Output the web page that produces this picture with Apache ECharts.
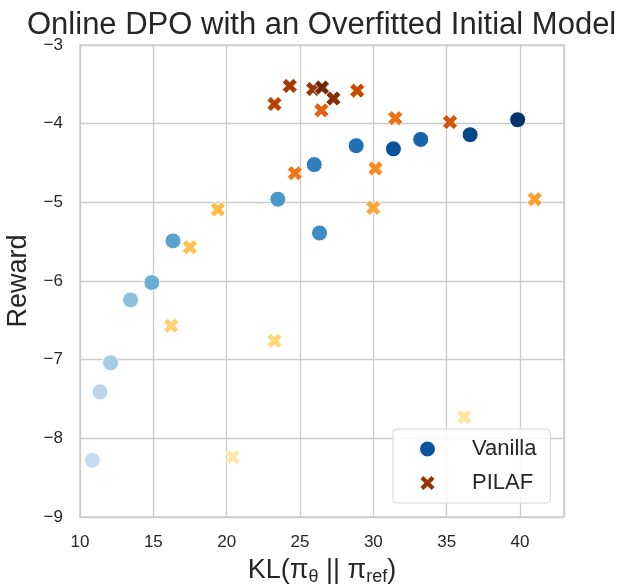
<!DOCTYPE html>
<html><head><meta charset="utf-8">
<script src="https://cdn.jsdelivr.net/npm/echarts@6/dist/echarts.min.js"></script>
<style>html,body{margin:0;padding:0;background:#fff}#c{width:619px;height:587px}</style>
</head><body><div id="c"></div>
<script>
// ---- data ----
const xTicks = [10, 15, 20, 25, 30, 35, 40];
const yTicks = [-9, -8, -7, -6, -5, -4, -3];
const vanillaKL     = [10.84, 11.36, 12.09, 13.45, 14.90, 16.34, 23.49, 26.33, 25.97, 28.83, 33.23, 31.37, 36.60, 39.84];
const vanillaReward = [-8.28, -7.41, -7.04, -6.24, -6.02, -5.49, -4.96, -5.39, -4.52, -4.28, -4.20, -4.32, -4.14, -3.95];
const pilafKL     = [36.20, 20.42, 23.26, 16.22, 17.49, 19.40, 30.00, 41.00, 30.14, 24.65, 31.50, 26.46, 35.23, 28.90, 23.26, 24.30, 25.90, 27.28, 26.50];
const pilafReward = [-7.73, -8.24, -6.76, -6.57, -5.57, -5.09, -5.07, -4.96, -4.57, -4.63, -3.93, -3.83, -3.98, -3.58, -3.75, -3.52, -3.56, -3.68, -3.54];

// ---- styles ----
const vanillaColors = ['#c6dbef','#b9d6ea','#a6cde3','#8cc0dd','#6aaed6','#5ba3d0','#4a98c9','#3c8cc3','#2e7ebc','#2171b5','#1764ab','#08519c','#08468a','#08306b'];
const pilafColors = ['#fee6a0','#fee8a5','#fed97a','#fed070','#fec24f','#febb48','#fea535','#fe9d2f','#fb8c20','#f07818','#ec7014','#e36210','#d4560a','#c84b04','#b84203','#a33a04','#993404','#86300a','#6e2a06'];
const xPath = 'path://M2.6,0 L5,2.4 L7.4,0 L10,2.6 L7.6,5 L10,7.4 L7.4,10 L5,7.6 L2.6,10 L0,7.4 L2.4,5 L0,2.6 Z';
const txt = '#262626';
const grid = '#cccccc';
const font = 'Liberation Sans, Arial, sans-serif';

const vData = vanillaKL.map((k, i) => ({value: [k, vanillaReward[i]], itemStyle: {color: vanillaColors[i]}}));
const pData = pilafKL.map((k, i) => ({value: [k, pilafReward[i]], itemStyle: {color: pilafColors[i]}}));

const chart = echarts.init(document.getElementById('c'), null, {renderer: 'canvas'});
chart.setOption({
  animation: false,
  backgroundColor: '#fff',
  textStyle: {fontFamily: font},
  title: {
    text: 'Online DPO with an Overfitted Initial Model',
    left: 22, top: 5,
    textStyle: {fontSize: 31, fontWeight: 'normal', color: txt, fontFamily: font}
  },
  grid: {left: 80, right: 55, top: 45, bottom: 70, outerBoundsMode: 'none', containLabel: false,
    show: true, borderColor: grid, borderWidth: 1.5, backgroundColor: '#fff'},
  xAxis: {
    type: 'value', min: 10, max: 43, interval: 5,
    axisLine: {show: false}, axisTick: {show: false},
    splitLine: {show: true, lineStyle: {color: grid, width: 1.3}},
    axisLabel: {fontSize: 17, color: txt, margin: 17, showMaxLabel: false,
      formatter: v => xTicks.includes(v) ? String(v) : ''},
    name: 'KL(π{sub|θ} || π{sub|ref})',
    nameLocation: 'middle', nameGap: 33,
    nameTextStyle: {fontSize: 27, color: txt, lineHeight: 30,
      rich: {sub: {fontSize: 18, color: txt, verticalAlign: 'bottom', lineHeight: 18, padding: [10, 0, 0, 0]}}}
  },
  yAxis: {
    type: 'value', min: -9, max: -3, interval: 1,
    axisLine: {show: false}, axisTick: {show: false},
    splitLine: {show: true, lineStyle: {color: grid, width: 1.3}},
    axisLabel: {fontSize: 17, color: txt, margin: 17,
      formatter: v => yTicks.includes(v) ? String(v).replace('-', '−') : ''},
    name: 'Reward', nameLocation: 'middle', nameGap: 48,
    nameTextStyle: {fontSize: 27, color: txt}
  },
  legend: {
    orient: 'vertical', left: 393, top: 429,
    padding: [8, 14, 8, 25],
    itemWidth: 17, itemHeight: 17, itemGap: 10,
    backgroundColor: 'rgba(255,255,255,0.85)', borderColor: '#d6d6d6', borderWidth: 1, borderRadius: 4,
    textStyle: {fontSize: 22, color: txt, lineHeight: 24, padding: [0, 0, 0, 31]},
    data: [{name: 'Vanilla', icon: 'circle'}, {name: 'PILAF', icon: xPath}]
  },
  series: [
    {name: 'Vanilla', type: 'scatter', symbol: 'circle', symbolSize: 16,
      itemStyle: {color: '#0b559f', borderColor: '#fff', borderWidth: 1, opacity: 1},
      data: vData, z: 2},
    {name: 'PILAF', type: 'scatter', symbol: xPath, symbolSize: 15,
      itemStyle: {color: '#993404', borderColor: '#fff', borderWidth: 0.8, opacity: 1},
      data: pData, z: 3}
  ]
});
</script></body></html>
